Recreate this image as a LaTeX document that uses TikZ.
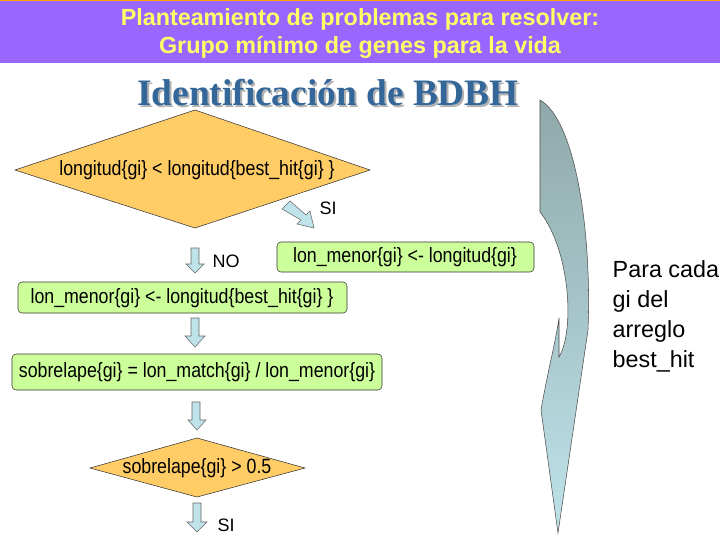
\documentclass[tikz,border=0pt]{standalone}
\usepackage{fontspec}
\setmainfont{Liberation Sans}
\newfontfamily\serifb{Liberation Serif}
\usetikzlibrary{shapes.geometric}
\definecolor{hdr}{HTML}{9966FF}
\definecolor{ylw}{HTML}{FFFF66}
\definecolor{grn}{HTML}{CCFF99}
\definecolor{org}{HTML}{FFCC66}
\definecolor{ttl}{HTML}{336699}
\definecolor{arr}{HTML}{BFE3EA}
\definecolor{arrt}{HTML}{8FA9AA}
\begin{document}
\begin{tikzpicture}[x=0.75pt,y=-0.75pt,
  box/.style={draw=black!80,fill=grn,rounded corners=3pt,anchor=center,inner sep=0pt},
  txt/.style={font=\fontsize{15.5}{17}\selectfont},
  dn/.style={draw=black!60,fill=arr,line width=0.4pt},
  lbl/.style={font=\fontsize{13.5}{15}\selectfont}]
\useasboundingbox (0,0) rectangle (720,540);
\fill[white] (0,0) rectangle (720,540);
\fill[hdr] (0,0) rectangle (720,63);
\draw[orange!70!yellow,line width=1pt] (0,0.5) -- (720,0.5);
\node (h1) at (360,19) {\color{ylw}\bfseries\fontsize{17.5}{20}\selectfont Planteamiento de problemas para resolver:};
\node (h2) at (360,47) {\color{ylw}\bfseries\fontsize{17.5}{20}\selectfont Grupo mínimo de genes para la vida};
\node[text=gray!60] at (330,95) {\serifb\bfseries\fontsize{28}{30}\selectfont Identificación de BDBH};
\node[text=ttl] (ttl) at (328,93) {\serifb\bfseries\fontsize{28}{30}\selectfont Identificación de BDBH};
% diamond 1
\draw[black!80,fill=org] (15,170) -- (195,110) -- (370,170) -- (195,228) -- cycle;
\node[txt] (d1) at (197,170) {\scalebox{0.86}[1]{longitud\{gi\} < longitud\{best\_hit\{gi\} \}}};
% SI diagonal arrow
\draw[dn] (282,209) -- (290,201) -- (306,215) -- (310,211) -- (314,228) -- (297,224) -- (301,220) -- cycle;
\node[lbl] (si1) at (328,208) {SI};
% NO arrow
\draw[dn] (191,248) -- (199,248) -- (199,264) -- (204,264) -- (195,273) -- (186,264) -- (191,264) -- cycle;
\node[lbl] (no) at (226,261) {NO};
\draw[box] (277,242) rectangle (534,272);
\node[txt] (b1) at (405,257) {\scalebox{0.86}[1]{lon\_menor\{gi\} <- longitud\{gi\}}};
\draw[box] (18,282) rectangle (347,313);
\node[txt] (b2) at (182,298) {\scalebox{0.86}[1]{lon\_menor\{gi\} <- longitud\{best\_hit\{gi\} \}}};
\draw[dn] (191,318) -- (199,318) -- (199,336) -- (205,336) -- (195,347) -- (185,336) -- (191,336) -- cycle;
\draw[box] (12,354) rectangle (382,390);
\node[txt] (b3) at (197,372) {\scalebox{0.86}[1]{sobrelape\{gi\} = lon\_match\{gi\} / lon\_menor\{gi\}}};
\draw[dn] (192,402) -- (200,402) -- (200,420) -- (206,420) -- (197,430) -- (188,420) -- (192,420) -- cycle;
\draw[black!80,fill=org] (90,468) -- (197,438) -- (305,468) -- (197,497) -- cycle;
\node[txt] (d2) at (197,468) {\scalebox{0.86}[1]{sobrelape\{gi\} > 0.5}};
\draw[dn] (193,503) -- (201,503) -- (201,522) -- (207,522) -- (197,532) -- (187,522) -- (193,522) -- cycle;
\node[lbl] (si2) at (226,525) {SI};
% curved arrow
\shade[top color=arrt,bottom color=arr,middle color=arrt!50!arr,draw=black!70]
  (540,100) .. controls (575,120) and (592,230) .. (588,330)
  -- (558,533) -- (541,410)
  .. controls (548,370) and (556,340) .. (559,318)
  -- (559,357)
  .. controls (575,330) and (570,250) .. (540,212) -- cycle;
\node[anchor=north west,align=left,font=\fontsize{17.5}{22.5}\selectfont] (pc) at (608,256) {Para cada\\gi del\\arreglo\\best\_hit};
\end{tikzpicture}
\end{document}
